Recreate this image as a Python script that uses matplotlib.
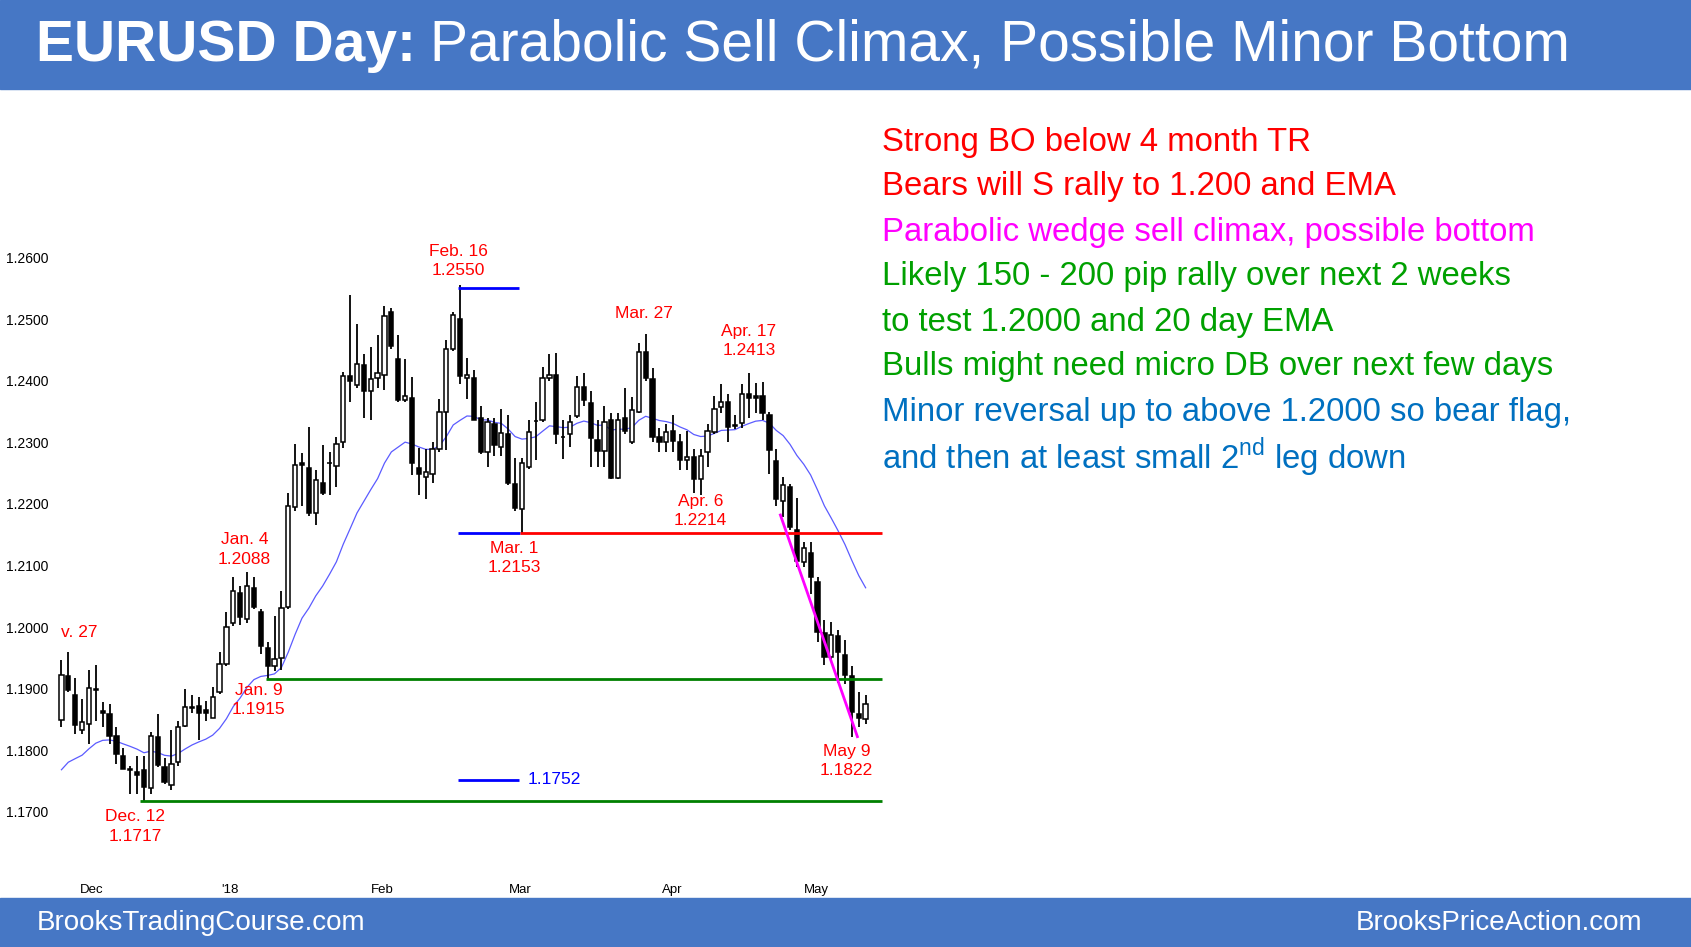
import matplotlib
matplotlib.use('Agg')
import matplotlib.pyplot as plt
import numpy as np

plt.rcParams['font.family'] = ['Liberation Sans', 'DejaVu Sans']
plt.rcParams['mathtext.fontset'] = 'custom'
plt.rcParams['mathtext.rm'] = 'Liberation Sans'

# daily OHLC, Nov 27 2017 .. May 11 2018
opens = [1.1849, 1.1920, 1.1889, 1.1833, 1.1842, 1.1899, 1.1863, 1.1858, 1.1823, 1.1791,
         1.1769, 1.1765, 1.1768, 1.1739, 1.1822, 1.1772, 1.1743, 1.1780, 1.1840, 1.1868,
         1.1871, 1.1866, 1.1852, 1.1894, 1.1940, 1.2006, 1.2056, 1.2013, 1.2063, 1.2025,
         1.1966, 1.1937, 1.1949, 1.2033, 1.2195, 1.2266, 1.2258, 1.2186, 1.2234, 1.2266,
         1.2262, 1.2300, 1.2407, 1.2393, 1.2426, 1.2383, 1.2404, 1.2410, 1.2511, 1.2435,
         1.2369, 1.2372, 1.2258, 1.2244, 1.2248, 1.2289, 1.2350, 1.2452, 1.2501, 1.2404,
         1.2404, 1.2339, 1.2284, 1.2330, 1.2292, 1.2314, 1.2232, 1.2192, 1.2260, 1.2334,
         1.2337, 1.2405, 1.2410, 1.2308, 1.2313, 1.2342, 1.2390, 1.2364, 1.2304, 1.2286,
         1.2336, 1.2242, 1.2339, 1.2300, 1.2349, 1.2447, 1.2403, 1.2308, 1.2301, 1.2318,
         1.2301, 1.2271, 1.2277, 1.2240, 1.2285, 1.2317, 1.2358, 1.2365, 1.2327, 1.2331,
         1.2379, 1.2375, 1.2375, 1.2344, 1.2269, 1.2205, 1.2228, 1.2157, 1.2105, 1.2120,
         1.2073, 1.1990, 1.1952, 1.1985, 1.1955, 1.1920, 1.1858, 1.1850]
highs = [1.1946, 1.1960, 1.1918, 1.1883, 1.1930, 1.1939, 1.1878, 1.1875, 1.1837, 1.1804,
         1.1774, 1.1791, 1.1791, 1.1829, 1.1859, 1.1788, 1.1833, 1.1848, 1.1899, 1.1889,
         1.1886, 1.1880, 1.1902, 1.1959, 1.2024, 1.2082, 1.2067, 1.2089, 1.2082, 1.2030,
         1.1975, 1.2018, 1.2059, 1.2218, 1.2297, 1.2283, 1.2325, 1.2255, 1.2296, 1.2284,
         1.2308, 1.2414, 1.2539, 1.2492, 1.2443, 1.2455, 1.2475, 1.2522, 1.2518, 1.2475,
         1.2435, 1.2406, 1.2290, 1.2289, 1.2301, 1.2371, 1.2466, 1.2511, 1.2556, 1.2437,
         1.2417, 1.2359, 1.2339, 1.2339, 1.2354, 1.2345, 1.2275, 1.2275, 1.2336, 1.2365,
         1.2423, 1.2443, 1.2445, 1.2336, 1.2345, 1.2407, 1.2413, 1.2383, 1.2336, 1.2359,
         1.2347, 1.2347, 1.2389, 1.2374, 1.2461, 1.2476, 1.2420, 1.2324, 1.2330, 1.2345,
         1.2313, 1.2318, 1.2289, 1.2289, 1.2330, 1.2376, 1.2395, 1.2379, 1.2345, 1.2394,
         1.2413, 1.2397, 1.2398, 1.2350, 1.2289, 1.2243, 1.2232, 1.2209, 1.2138, 1.2138,
         1.2081, 1.2011, 1.2008, 1.1995, 1.1979, 1.1936, 1.1895, 1.1890]
lows = [1.1837, 1.1894, 1.1826, 1.1826, 1.1810, 1.1848, 1.1837, 1.1810, 1.1778, 1.1769,
        1.1728, 1.1728, 1.1717, 1.1728, 1.1772, 1.1745, 1.1735, 1.1774, 1.1837, 1.1861,
        1.1816, 1.1848, 1.1852, 1.1891, 1.1937, 1.2001, 1.2004, 1.2007, 1.2030, 1.1957,
        1.1915, 1.1928, 1.1931, 1.2030, 1.2189, 1.2197, 1.2180, 1.2166, 1.2215, 1.2215,
        1.2227, 1.2290, 1.2365, 1.2388, 1.2339, 1.2336, 1.2388, 1.2385, 1.2452, 1.2365,
        1.2365, 1.2247, 1.2215, 1.2208, 1.2234, 1.2284, 1.2287, 1.2449, 1.2395, 1.2371,
        1.2336, 1.2281, 1.2260, 1.2278, 1.2278, 1.2231, 1.2188, 1.2153, 1.2257, 1.2272,
        1.2333, 1.2400, 1.2298, 1.2273, 1.2292, 1.2339, 1.2359, 1.2260, 1.2260, 1.2260,
        1.2240, 1.2240, 1.2313, 1.2298, 1.2347, 1.2400, 1.2301, 1.2284, 1.2284, 1.2284,
        1.2255, 1.2255, 1.2217, 1.2214, 1.2260, 1.2313, 1.2348, 1.2300, 1.2321, 1.2324,
        1.2339, 1.2347, 1.2336, 1.2249, 1.2197, 1.2179, 1.2157, 1.2098, 1.2097, 1.2054,
        1.1976, 1.1938, 1.1946, 1.1909, 1.1908, 1.1822, 1.1838, 1.1842]
closes = [1.1922, 1.1897, 1.1841, 1.1845, 1.1901, 1.1898, 1.1860, 1.1823, 1.1793, 1.1770,
          1.1768, 1.1759, 1.1740, 1.1823, 1.1776, 1.1748, 1.1778, 1.1837, 1.1870, 1.1870,
          1.1861, 1.1860, 1.1886, 1.1940, 1.2000, 1.2059, 1.2017, 1.2067, 1.2033, 1.1969,
          1.1937, 1.1948, 1.2031, 1.2197, 1.2264, 1.2264, 1.2186, 1.2239, 1.2218, 1.2267,
          1.2298, 1.2407, 1.2399, 1.2428, 1.2384, 1.2403, 1.2412, 1.2505, 1.2457, 1.2368,
          1.2376, 1.2267, 1.2248, 1.2252, 1.2289, 1.2350, 1.2451, 1.2507, 1.2408, 1.2409,
          1.2337, 1.2284, 1.2333, 1.2295, 1.2315, 1.2234, 1.2194, 1.2266, 1.2317, 1.2334,
          1.2404, 1.2410, 1.2313, 1.2308, 1.2333, 1.2390, 1.2369, 1.2307, 1.2286, 1.2333,
          1.2242, 1.2337, 1.2318, 1.2352, 1.2447, 1.2404, 1.2308, 1.2301, 1.2317, 1.2302,
          1.2271, 1.2277, 1.2240, 1.2278, 1.2319, 1.2354, 1.2366, 1.2325, 1.2327, 1.2378,
          1.2372, 1.2372, 1.2347, 1.2288, 1.2208, 1.2231, 1.2162, 1.2107, 1.2129, 1.2081,
          1.1992, 1.1952, 1.1987, 1.1960, 1.1922, 1.1862, 1.1852, 1.1875]
ema_seed = 1.1752

month_pos = [4.4, 24.5, 46.7, 66.8, 88.8, 109.8]
month_labels = ['Dec', "'18", 'Feb', 'Mar', 'Apr', 'May']
price_ticks = [1.17, 1.18, 1.19, 1.20, 1.21, 1.22, 1.23, 1.24, 1.25, 1.26]

notes = [
    ('Strong BO below 4 month TR', '#FF0000'),
    ('Bears will S rally to 1.200 and EMA', '#FF0000'),
    ('Parabolic wedge sell climax, possible bottom', '#FF00FF'),
    ('Likely 150 - 200 pip rally over next 2 weeks', '#00A000'),
    ('to test 1.2000 and 20 day EMA', '#00A000'),
    ('Bulls might need micro DB over next few days', '#00A000'),
    ('Minor reversal up to above 1.2000 so bear flag,', '#0070C0'),
    (r'and then at least small 2$^{\mathrm{nd}}$ leg down', '#0070C0'),
]

# label text, x index, price (centre)
swing_labels = [
    ('v. 27', 0.0, 1.1991, 'left'),
    ('Jan. 4\n1.2088', 26.6, 1.2126, 'center'),
    ('Jan. 9\n1.1915', 28.7, 1.1882, 'center'),
    ('Dec. 12\n1.1717', 10.7, 1.1676, 'center'),
    ('Feb. 16\n1.2550', 57.7, 1.2594, 'center'),
    ('Mar. 1\n1.2153', 65.9, 1.2112, 'center'),
    ('Mar. 27', 84.7, 1.2509, 'center'),
    ('Apr. 17\n1.2413', 100.0, 1.2464, 'center'),
    ('Apr. 6\n1.2214', 93.0, 1.2189, 'center'),
    ('May 9\n1.1822', 114.2, 1.1783, 'center'),
]

BLUE = '#4677C5'
W, H = 1691, 947
fig = plt.figure(figsize=(W / 100, H / 100), dpi=100)
fig.patch.set_facecolor('white')

# header / footer bands
fig.patches.append(plt.Rectangle((0, 1 - 89 / H), 1, 89 / H, transform=fig.transFigure,
                                 color=BLUE, zorder=0))
fig.patches.append(plt.Rectangle((0, 0), 1, 49 / H, transform=fig.transFigure,
                                 color=BLUE, zorder=0))
t1 = fig.text(36 / W, 1 - 46 / H, 'EURUSD Day:', color='white', fontsize=41,
              fontweight='bold', va='center', ha='left')
fig.canvas.draw()
bb = t1.get_window_extent()
fig.text((bb.x1 + 14) / W, 1 - 46 / H, 'Parabolic Sell Climax, Possible Minor Bottom',
         color='white', fontsize=41, va='center', ha='left')
fig.text(37 / W, 24 / H, 'BrooksTradingCourse.com', color='white', fontsize=20,
         va='center', ha='left')
fig.text(1642 / W, 24 / H, 'BrooksPriceAction.com', color='white', fontsize=20,
         va='center', ha='right')

# chart axes
px_per_bar = 6.376 * 1.078
x0 = 57 * 1.078
left_px, right_px = 54, 884
ax = fig.add_axes([left_px / W, 70 / H, (right_px - left_px) / W, (H - 89 - 70) / H])
ax.set_xlim((left_px - x0) / px_per_bar, (right_px - x0) / px_per_bar)
ppu = 5711 * 1.078
top_px, bot_px = 89, H - 70
ax.set_ylim(1.17 - (bot_px - 753 * 1.078) / ppu, 1.26 + (239 * 1.078 - top_px) / ppu)
for s in ax.spines.values():
    s.set_visible(False)
ax.set_yticks(price_ticks)
ax.set_yticklabels(['%.4f' % p for p in price_ticks], fontsize=10)
ax.set_xticks(month_pos)
ax.set_xticklabels(month_labels, fontsize=9.5)
ax.tick_params(length=0, pad=4)
ax.tick_params(axis='x', pad=5)

idx = np.arange(len(closes))
o = np.array(opens); h = np.array(highs); l = np.array(lows); c = np.array(closes)

# 20 day EMA
ema = []
e = ema_seed
for v in closes:
    e = e + (v - e) * 2 / 21
    ema.append(e)
ax.plot(idx, ema, color='#5B5BFF', lw=0.9, zorder=2)

ax.vlines(idx, l, h, color='black', lw=1.3, zorder=3)
up = c >= o
bottom = np.minimum(o, c)
height = np.maximum(np.abs(c - o), 0.00012)
ax.bar(idx, height, bottom=bottom, width=0.62, color=np.where(up, 'white', 'black'),
       edgecolor='black', linewidth=1.1, zorder=4)

# support / resistance lines
ax.hlines(1.2550, 57.7, 66.6, color='#0000FF', lw=2, zorder=5)
ax.hlines(1.2153, 57.7, 66.7, color='#0000FF', lw=2, zorder=5)
ax.hlines(1.2153, 66.7, 119.4, color='#FF0000', lw=2, zorder=5)
ax.hlines(1.1752, 57.7, 66.6, color='#0000FF', lw=2, zorder=5)
ax.hlines(1.1915, 29.7, 119.4, color='#008000', lw=2, zorder=5)
ax.hlines(1.1717, 11.4, 119.4, color='#008000', lw=2, zorder=5)
ax.plot([104.6, 115.8], [1.2182, 1.1822], color='#FF00FF', lw=2, zorder=5)
ax.text(67.8, 1.1752, '1.1752', color='#0000FF', fontsize=12.5, va='center', ha='left')

for txt, xi, yp, ha in swing_labels:
    ax.text(xi, yp, txt, color='#FF0000', fontsize=12.5, ha=ha, va='center',
            linespacing=1.35)

for i, (txt, col) in enumerate(notes):
    fig.text(882 / W, 1 - (142 + i * 45) / H, txt, color=col, fontsize=23.7,
             va='center', ha='left')

fig.savefig('out.png', dpi=100)
